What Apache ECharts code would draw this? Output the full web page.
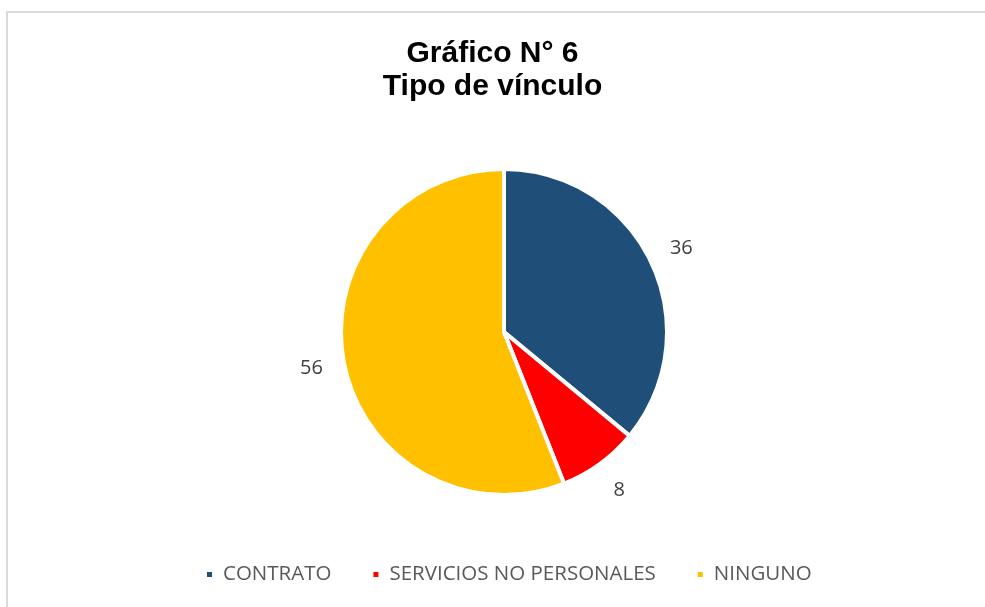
<!DOCTYPE html>
<html>
<head>
<meta charset="utf-8">
<script src="https://cdn.jsdelivr.net/npm/echarts@6/dist/echarts.min.js"></script>
<style>
  html, body { margin: 0; padding: 0; background: #ffffff; overflow: hidden; }
  #frame { position: absolute; left: 6px; top: 11px; width: 1000px; height: 620px; border: 2px solid #d9d9d9; box-sizing: border-box; }
  #chart { position: absolute; left: 0; top: 0; width: 985px; height: 607px; }
</style>
</head>
<body>
<div id="frame"></div>
<div id="chart"></div>
<script>
const titleLines = ['Gráfico N° 6', 'Tipo de vínculo'];
const categories = ['CONTRATO', 'SERVICIOS NO PERSONALES', 'NINGUNO'];
const values = [36, 8, 56];
const colors = ['#1F4E79', '#FF0000', '#FFC000'];

const pieData = categories.map((name, i) => ({ name: name, value: values[i], itemStyle: { color: colors[i] } }));
const labelData = categories.map((name, i) => ({ name: name, value: values[i] }));

const chart = echarts.init(document.getElementById('chart'), null, { renderer: 'canvas' });
chart.setOption({
  backgroundColor: 'transparent',
  animation: false,
  title: {
    text: titleLines.join('\n'),
    left: 'center',
    top: 32,
    textStyle: {
      fontFamily: 'Liberation Sans, Arial, sans-serif',
      fontWeight: 'bold',
      fontSize: 30,
      lineHeight: 33,
      color: '#000000'
    }
  },
  legend: {
    bottom: 17,
    left: 200,
    itemWidth: 7,
    itemHeight: 7,
    itemGap: 40,
    icon: 'rect',
    selectedMode: false,
    textStyle: {
      fontFamily: 'Open Sans, sans-serif',
      fontSize: 20.5,
      color: '#595959',
      padding: [0, 0, 0, 5]
    },
    data: categories.map((name, i) => ({ name: name, itemStyle: { color: colors[i] } }))
  },
  series: [
    {
      type: 'pie',
      center: [504, 332],
      radius: 163,
      startAngle: 90,
      clockwise: true,
      silent: true,
      data: pieData,
      itemStyle: { borderColor: '#ffffff', borderWidth: 4 },
      label: { show: false },
      labelLine: { show: false }
    },
    {
      type: 'pie',
      center: [504, 332],
      radius: [178, 208],
      startAngle: 90,
      clockwise: true,
      silent: true,
      legendHoverLink: false,
      data: labelData,
      itemStyle: { color: 'rgba(0,0,0,0)' },
      label: {
        show: true,
        position: 'inside',
        formatter: '{c}',
        fontFamily: 'Open Sans, sans-serif',
        fontSize: 20,
        color: '#404040'
      },
      labelLine: { show: false }
    }
  ]
});
</script>
</body>
</html>
